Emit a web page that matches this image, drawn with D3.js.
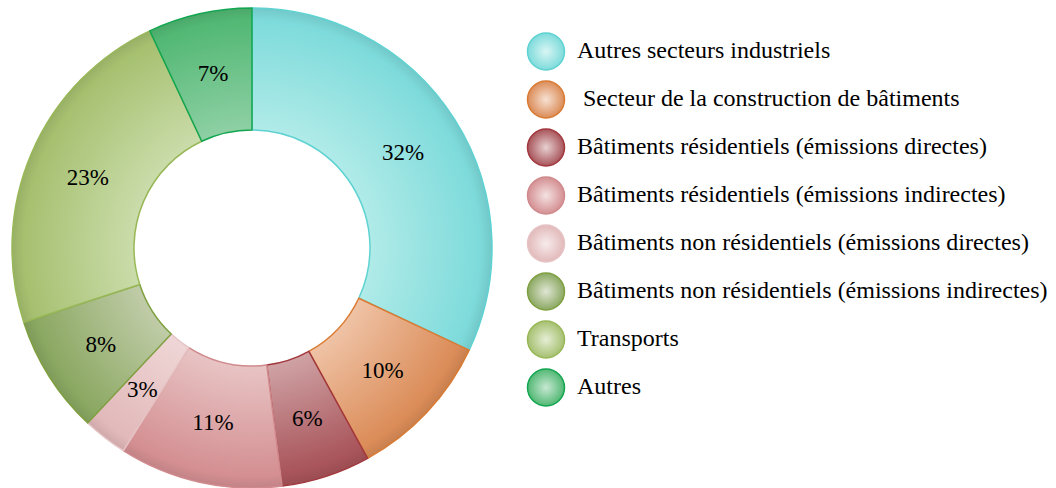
<!DOCTYPE html>
<html>
<head>
<meta charset="utf-8">
<script src="https://cdn.jsdelivr.net/npm/d3@7"></script>
<style>
  html, body { margin: 0; padding: 0; background: #fff; }
  svg { display: block; }
</style>
</head>
<body>
<div id="chart"></div>
<script>
// Share of emissions by sector, clockwise from 12 o'clock
const categories = [
  'Autres secteurs industriels',
  ' Secteur de la construction de bâtiments',
  'Bâtiments résidentiels (émissions directes)',
  'Bâtiments résidentiels (émissions indirectes)',
  'Bâtiments non résidentiels (émissions directes)',
  'Bâtiments non résidentiels (émissions indirectes)',
  'Transports',
  'Autres'
];
const values = [32, 10, 6, 11, 3, 8, 23, 7];

// inner (light) / outer (base) / stroke colours per slice
const innerColors = ['#b0ebe8', '#efc3a6', '#cfa2a4', '#e8c4c4', '#efd6d6', '#c0cca8', '#cadcaa', '#8ed0a4'];
const outerColors = ['#7edbdb', '#db8c58', '#a8545a', '#d48f92', '#e2b9ba', '#8ba862', '#a6c070', '#52b874'];
const strokeColors = ['#5fd2d2', '#d97b33', '#a2383e', '#d08a8d', '#e6c4c5', '#7fa040', '#98b858', '#12a650'];

const W = 1056, H = 488;
const cx = 252, cy = 248, rOuter = 240, rInner = 118;
const FONT = "'Liberation Serif', Tinos, 'Times New Roman', serif";

const svg = d3.select('#chart').append('svg')
  .attr('width', W).attr('height', H);

const defs = svg.append('defs');

// slice gradients: radial from the chart centre (group origin), light on the inner rim
categories.forEach((c, i) => {
  const g = defs.append('radialGradient')
    .attr('id', 'slice-' + i)
    .attr('gradientUnits', 'userSpaceOnUse')
    .attr('cx', 0).attr('cy', 0).attr('r', rOuter);
  g.append('stop').attr('offset', rInner / rOuter).attr('stop-color', innerColors[i]);
  g.append('stop').attr('offset', 0.95).attr('stop-color', outerColors[i]);
  g.append('stop').attr('offset', 1).attr('stop-color', d3.color(outerColors[i]).darker(0.25));

  const lg = defs.append('radialGradient')
    .attr('id', 'legend-' + i)
    .attr('cx', '50%').attr('cy', '50%').attr('r', '50%');
  lg.append('stop').attr('offset', 0).attr('stop-color', d3.interpolateRgb(innerColors[i], '#fff')(0.5));
  lg.append('stop').attr('offset', 1).attr('stop-color', outerColors[i]);
});

const pie = d3.pie().sort(null).value((d) => d);
const arc = d3.arc().innerRadius(rInner).outerRadius(rOuter);
const labelArc = d3.arc().innerRadius((rInner + rOuter) / 2).outerRadius((rInner + rOuter) / 2);

const arcs = pie(values);

const g = svg.append('g').attr('transform', `translate(${cx},${cy})`);

g.selectAll('path.slice')
  .data(arcs)
  .enter()
  .append('path')
  .attr('class', 'slice')
  .attr('d', arc)
  .attr('fill', (d, i) => `url(#slice-${i})`)
  .attr('stroke', (d, i) => strokeColors[i])
  .attr('stroke-width', 1.5)
  .attr('stroke-linejoin', 'round');

g.selectAll('text.pct')
  .data(arcs)
  .enter()
  .append('text')
  .attr('class', 'pct')
  .attr('x', (d) => labelArc.centroid(d)[0])
  .attr('y', (d) => labelArc.centroid(d)[1])
  .attr('text-anchor', 'middle')
  .attr('dy', '0.33em')
  .style('font-family', FONT)
  .style('font-size', '23px')
  .attr('fill', '#000')
  .text((d) => d.value + '%');

// Legend
const legend = svg.append('g').attr('transform', 'translate(546,51.5)');
const row = legend.selectAll('g')
  .data(categories)
  .enter()
  .append('g')
  .attr('transform', (d, i) => `translate(0,${i * 48})`);

row.append('circle')
  .attr('r', 18.5)
  .attr('fill', (d, i) => `url(#legend-${i})`)
  .attr('stroke', (d, i) => strokeColors[i])
  .attr('stroke-width', 1.5);

row.append('text')
  .attr('x', 31)
  .attr('dy', '0.28em')
  .style('font-family', FONT)
  .style('font-size', '24px')
  .style('white-space', 'pre')
  .attr('fill', '#000')
  .text((d) => d);
</script>
</body>
</html>
